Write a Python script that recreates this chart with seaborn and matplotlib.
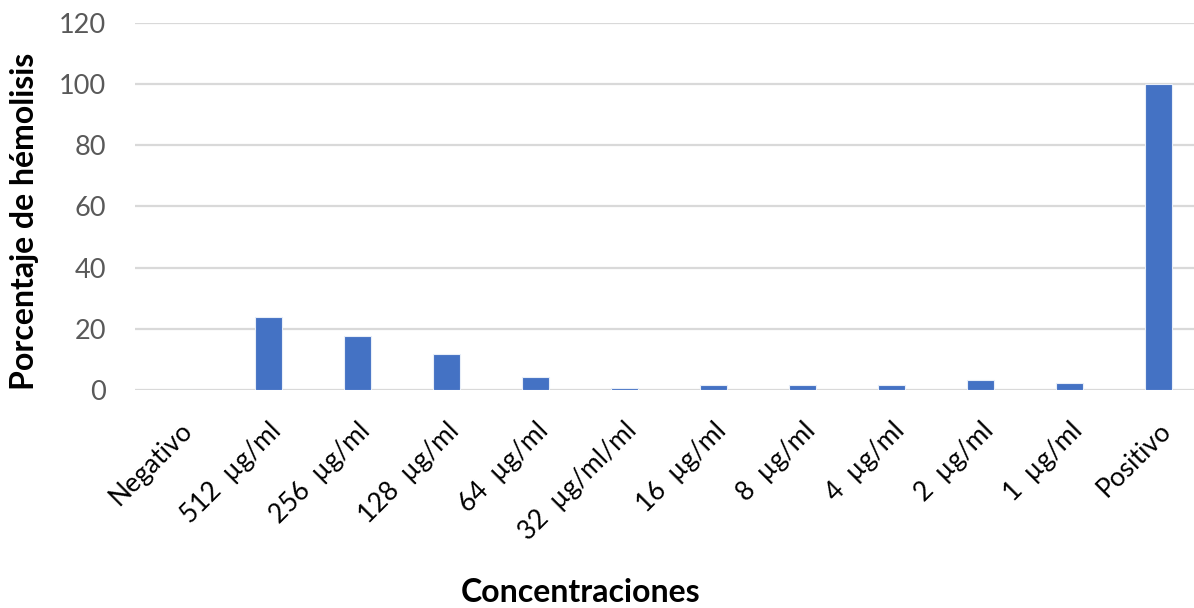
import matplotlib
matplotlib.use("Agg")
import matplotlib.pyplot as plt
import seaborn as sns
import pandas as pd

categorias = ["Negativo", "512  µg/ml", "256  µg/ml", "128  µg/ml", "64  µg/ml",
              "32  µg/ml/ml", "16  µg/ml", "8  µg/ml", "4  µg/ml", "2  µg/ml",
              "1  µg/ml", "Positivo"]
hemolisis = [0, 23.8, 17.6, 11.8, 4.4, 0.6, 1.75, 1.7, 1.75, 3.2, 2.4, 100]
y_ticks = [0, 20, 40, 60, 80, 100, 120]

sns.set_theme(style="white")
plt.rcParams["font.family"] = ["Lato", "DejaVu Sans"]

df = pd.DataFrame({"Concentraciones": categorias, "Hemolisis": hemolisis})

fig = plt.figure(figsize=(11.94, 6.08), dpi=100)
ax = fig.add_axes([135 / 1194, 1 - 390 / 608, 1068 / 1194, (390 - 22.7) / 608])

sns.barplot(data=df, x="Concentraciones", y="Hemolisis", color="#4472C4",
            width=0.31, saturation=1, edgecolor="#e8eef8", linewidth=0.8,
            ax=ax, zorder=3)

ax.set_xlim(-0.5, len(categorias) - 0.5)
ax.set_ylim(0, 120)
ax.set_yticks(y_ticks)
ax.yaxis.grid(True, color="#d9d9d9", linewidth=1.6, zorder=0)
ax.set_axisbelow(True)
for s in ax.spines.values():
    s.set_visible(False)

ax.tick_params(axis="y", length=0, pad=21, labelsize=19.5, labelcolor="#595959")
ax.tick_params(axis="x", length=0, pad=20, labelsize=19, labelcolor="black")
for lbl in ax.get_xticklabels():
    lbl.set_rotation(45)
    lbl.set_ha("right")
    lbl.set_va("top")
    lbl.set_rotation_mode("anchor")

ax.set_ylabel("Porcentaje de hémolisis", fontsize=23, fontweight="bold",
              color="black")
ax.yaxis.set_label_coords(-(135 - 25) / 1068, (390 - 221) / (390 - 22.7))
ax.yaxis.label.set_va("center")
ax.set_xlabel("Concentraciones", fontsize=23, fontweight="bold", color="black")
ax.xaxis.set_label_coords((581 - 135) / 1068, -(592 - 390) / (390 - 22.7))
ax.xaxis.label.set_va("center")

fig.savefig("out.png", dpi=100)
